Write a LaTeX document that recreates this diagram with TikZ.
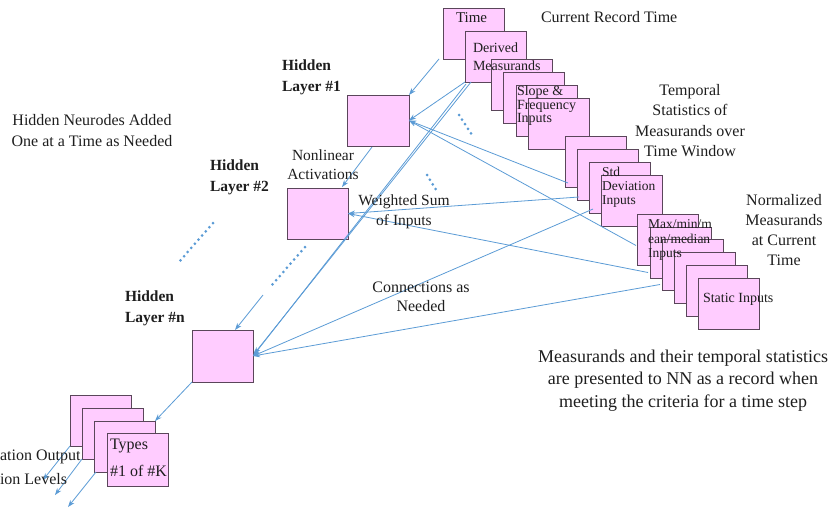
\documentclass[tikz,border=0pt]{standalone}
\usepackage{fontspec}
\setmainfont{Liberation Serif}
\usetikzlibrary{arrows.meta,calc}
\definecolor{boxfill}{RGB}{255,204,255}
\definecolor{boxline}{RGB}{90,70,90}
\definecolor{linkblue}{RGB}{91,155,213}
\definecolor{ink}{RGB}{30,30,30}
\newcommand\fsz[2]{\fontsize{#1}{#2}\selectfont}

\begin{document}
\begin{tikzpicture}[x=1pt,y=-1pt,
  cell/.style={draw=boxline, fill=boxfill, line width=0.8pt, anchor=north west,
    minimum width=61pt, minimum height=51pt, inner sep=0pt, outer sep=0pt},
  lbl/.style={inner sep=0pt, outer sep=0pt, text=ink},
  link/.style={draw=linkblue, line width=0.8pt, -{Stealth[length=7pt,width=5pt]}},
  dots/.style={draw=linkblue, line width=3pt, line cap=round, dash pattern=on 0pt off 5.5pt},
]
\useasboundingbox (0,0) rectangle (832,509);

% input record: time and derived measurands
\node[cell] (time) at (443,8) {};
\node[cell] (der)  at (465,31) {};
\node[cell] (d3)   at (491,59) {};
\node[cell] (d4)   at (503,72) {};
\node[cell] (slope) at (516,85) {};
\node[cell] (d6)   at (528,98) {};
% temporal statistics
\node[cell] (s1) at (565,136) {};
\node[cell] (s2) at (577,149) {};
\node[cell] (s3) at (589,162) {};
\node[cell] (s4) at (601,175) {};
% normalized measurands
\node[cell] (n1) at (637,214) {};
\node[cell] (n2) at (650,227) {};
\node[cell] (n3) at (662,239) {};
\node[cell] (n4) at (674,252) {};
\node[cell] (n5) at (686,265) {};
\node[cell] (n6) at (698,278) {};
% hidden layers
\node[cell, minimum width=62pt] (L1) at (347,95) {};
\node[cell] (L2) at (287,188) {};
\node[cell, minimum height=52pt] (Ln) at (192,330) {};
% output types
\node[cell] (o1) at (70,395) {};
\node[cell] (o2) at (82,408) {};
\node[cell] (o3) at (94,421) {};
\node[cell, minimum height=53pt] (o4) at (107,433) {};

% connections into the hidden layers
\draw[link] ($(time.south west)+(-4,0)$) -- (L1.north east);
\draw[link] (der.south west) -- (L1.east);
\draw[link] ($(der.south west)+(1,2)$) -- (Ln.east);
\draw[link] ($(der.south west)+(6,0)$) -- ($(Ln.east)+(1,-2)$);
\draw[link] ($(s1.south west)+(3,-4)$) -- (L1.east);
\draw[link] ($(n1.west)+(-1,6)$) -- (L1.east);
\draw[link] ($(s2.south west)+(2,-3)$) -- (L2.east);
\draw[link] ($(n2.west)+(-2,20)$) -- (L2.east);
\draw[link] ($(s3.south west)+(4,-4)$) -- (Ln.east);
\draw[link] ($(n3.west)+(-2,20)$) -- (Ln.east);
% layer to layer
\draw[link] ($(L1.south)+(-6,1)$) -- ($(L2.north east)+(-6,-1)$);
\coordinate (gapn) at (263,295);
\draw[link] (gapn) -- ($(Ln.north east)+(-18,0)$);
\draw[link] (Ln.south west) -- (o3.north east);
% outputs
\coordinate (out1) at (43,480);
\coordinate (out2) at (55,495);
\coordinate (out3) at (68,507);
\draw[link] (o1.south west) -- (out1);
\draw[link] (o2.south west) -- (out2);
\draw[link] ($(o3.south west)+(2,0)$) -- (out3);

% ellipsis dots
\draw[dots] (213,223) -- (179,262);
\draw[dots] (305,247) -- (272,285);
\draw[dots] (459,115) -- (474,138);
\draw[dots] (427,175) -- (438,193);

% texts in the boxes
\node[lbl, anchor=west, font=\fsz{15}{18}] at (456,18) {Time};
\node[lbl, anchor=north west, align=left, font=\fsz{14}{18}] at (473,43) {Derived\\Measurands};
\node[lbl, anchor=north west, align=left, font=\fsz{14}{13.5}] at (517,86) {Slope \&\\Frequency\\Inputs};
\node[lbl, anchor=north west, align=left, font=\fsz{13.5}{14}] at (602,167) {Std\\Deviation\\Inputs};
\node[lbl, anchor=north west, align=left, font=\fsz{13.5}{14.5}] at (648,220) {Max/min/m\\ean/median\\Inputs};
\node[lbl, anchor=west, font=\fsz{14}{16}] at (703,299) {Static Inputs};
\node[lbl, anchor=north west, align=left, font=\fsz{16}{27}] at (110,439) {Types\\\#1 of \#K};

% labels
\node[lbl, anchor=west, font=\fsz{16}{20}] at (541,17) {Current Record Time};
\node[lbl, anchor=north, align=center, font=\fsz{16}{20.6}] at (690,84) {Temporal\\Statistics of\\Measurands over\\Time Window};
\node[lbl, anchor=north, align=center, font=\fsz{16}{20}] at (784,194) {Normalized\\Measurands\\at Current\\Time};
\node[lbl, anchor=north, align=center, font=\fsz{18}{22.5}] at (683,350) {Measurands and their temporal statistics\\are presented to NN as a record when\\meeting the criteria for a time step};
\node[lbl, anchor=north, align=center, font=\fsz{16}{21}] at (92,114) {Hidden Neurodes Added\\One at a Time as Needed};
\node[lbl, anchor=north west, align=left, font=\fsz{15.5}{21}\bfseries] at (282,59.5) {Hidden\\Layer \#1};
\node[lbl, anchor=north west, align=left, font=\fsz{15.5}{21}\bfseries] at (210,159.5) {Hidden\\Layer \#2};
\node[lbl, anchor=north west, align=left, font=\fsz{15.5}{21}\bfseries] at (125,290.5) {Hidden\\Layer \#n};
\node[lbl, anchor=north, align=center, font=\fsz{15.5}{19}] at (323,149.5) {Nonlinear\\Activations};
\node[lbl, anchor=north, align=center, font=\fsz{15.5}{20}] at (404,195) {Weighted Sum\\of Inputs};
\node[lbl, anchor=north, align=center, font=\fsz{16}{19}] at (421,282) {Connections as\\Needed};
\node[lbl, anchor=north west, align=left, font=\fsz{16}{24}] at (0,450) {ation Output\\ion Levels};
\end{tikzpicture}
\end{document}
